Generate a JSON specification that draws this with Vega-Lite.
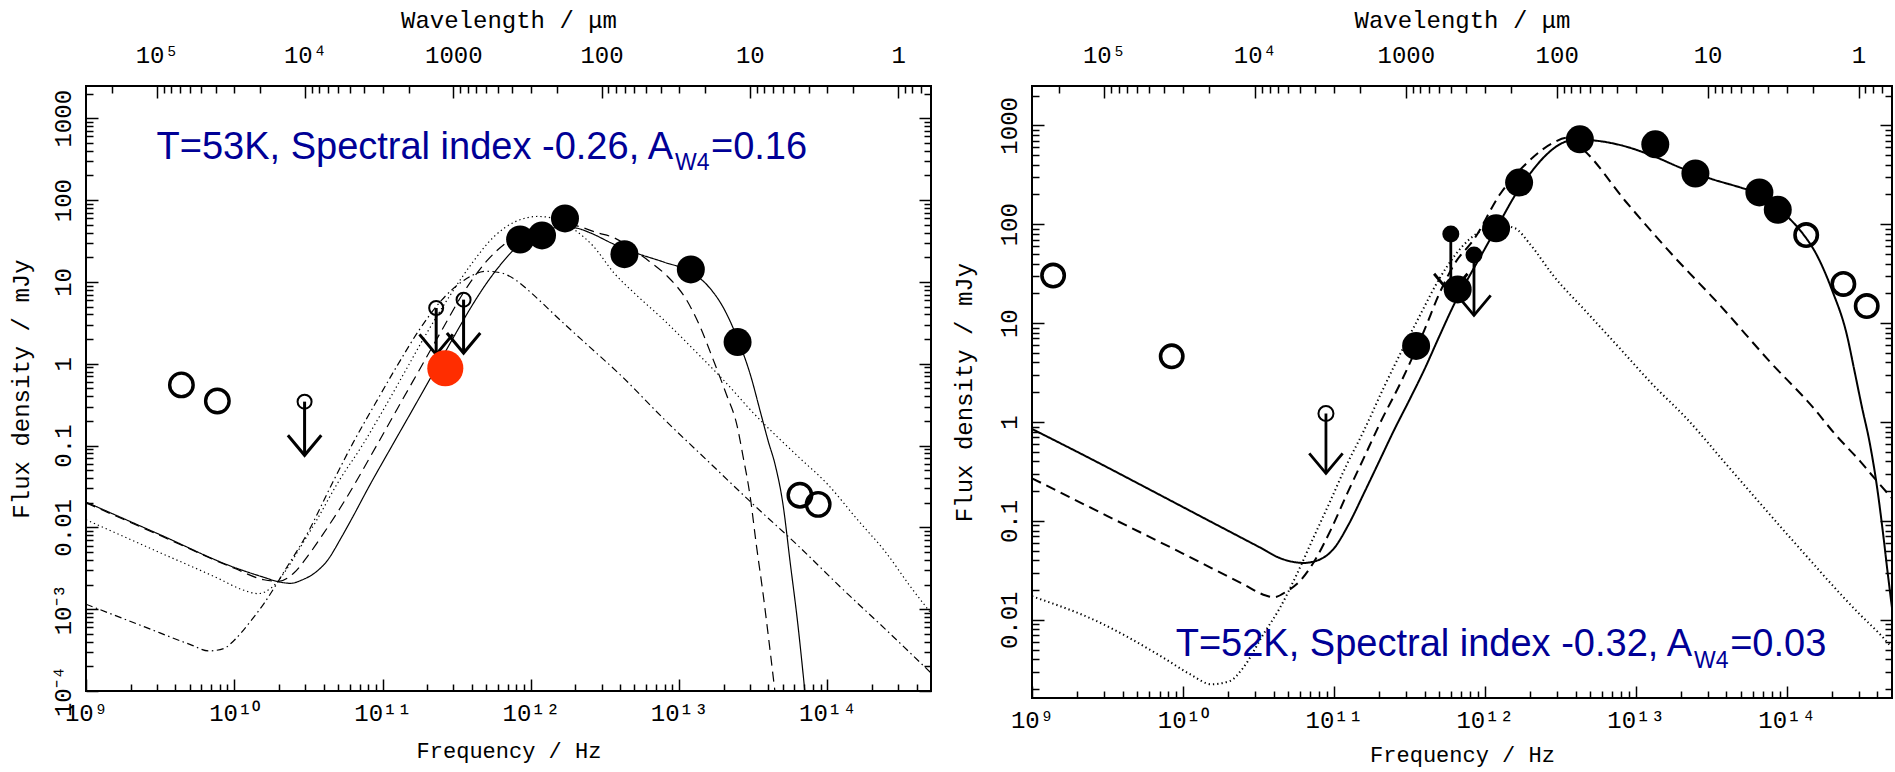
{
  "$schema": "https://vega.github.io/schema/vega-lite/v6.json",
  "background": "white",
  "padding": {"left": 8, "top": 7, "right": 0, "bottom": 8},
  "spacing": 101,
  "bounds": "flush",
  "datasets": {
    "leftCurves": [
      {"curve": "c1", "nu": 1e9, "flux": 0.0204}, {"curve": "c1", "nu": 3.162e9, "flux": 0.00813}, {"curve": "c1", "nu": 1e10, "flux": 0.00324}, {"curve": "c1", "nu": 1.585e10, "flux": 0.00245}, {"curve": "c1", "nu": 1.995e10, "flux": 0.00216}, {"curve": "c1", "nu": 2.399e10, "flux": 0.00207}, {"curve": "c1", "nu": 2.884e10, "flux": 0.00229}, {"curve": "c1", "nu": 3.467e10, "flux": 0.00275}, {"curve": "c1", "nu": 4.266e10, "flux": 0.00398}, {"curve": "c1", "nu": 5.248e10, "flux": 0.00741}, {"curve": "c1", "nu": 6.31e10, "flux": 0.0135}, {"curve": "c1", "nu": 7.943e10, "flux": 0.0295}, {"curve": "c1", "nu": 1.161e11, "flux": 0.1}, {"curve": "c1", "nu": 1.585e11, "flux": 0.269}, {"curve": "c1", "nu": 2.239e11, "flux": 0.813}, {"curve": "c1", "nu": 3.162e11, "flux": 2.455}, {"curve": "c1", "nu": 3.981e11, "flux": 5.012}, {"curve": "c1", "nu": 5.012e11, "flux": 9.55}, {"curve": "c1", "nu": 6.31e11, "flux": 16.6}, {"curve": "c1", "nu": 7.943e11, "flux": 26.3}, {"curve": "c1", "nu": 1e12, "flux": 35.5}, {"curve": "c1", "nu": 1.259e12, "flux": 42.7}, {"curve": "c1", "nu": 1.585e12, "flux": 46.8}, {"curve": "c1", "nu": 1.995e12, "flux": 45.7}, {"curve": "c1", "nu": 2.512e12, "flux": 39.8}, {"curve": "c1", "nu": 3.548e12, "flux": 29.5}, {"curve": "c1", "nu": 5.012e12, "flux": 22.9}, {"curve": "c1", "nu": 7.943e12, "flux": 17.4}, {"curve": "c1", "nu": 1.202e13, "flux": 13.2}, {"curve": "c1", "nu": 1.585e13, "flux": 8.71}, {"curve": "c1", "nu": 1.995e13, "flux": 4.79}, {"curve": "c1", "nu": 2.512e13, "flux": 1.905}, {"curve": "c1", "nu": 3.02e13, "flux": 0.741}, {"curve": "c1", "nu": 3.548e13, "flux": 0.251}, {"curve": "c1", "nu": 3.981e13, "flux": 0.115}, {"curve": "c1", "nu": 4.467e13, "flux": 0.0562}, {"curve": "c1", "nu": 5.012e13, "flux": 0.0195}, {"curve": "c1", "nu": 5.623e13, "flux": 0.00363}, {"curve": "c1", "nu": 6.31e13, "flux": 0.000676}, {"curve": "c1", "nu": 7.047e13, "flux": 0.0001},
      {"curve": "c2", "nu": 1e9, "flux": 0.01995}, {"curve": "c2", "nu": 3.162e9, "flux": 0.00794}, {"curve": "c2", "nu": 1e10, "flux": 0.00316}, {"curve": "c2", "nu": 1.585e10, "flux": 0.00229}, {"curve": "c2", "nu": 1.995e10, "flux": 0.00219}, {"curve": "c2", "nu": 2.512e10, "flux": 0.00275}, {"curve": "c2", "nu": 3.162e10, "flux": 0.00457}, {"curve": "c2", "nu": 3.981e10, "flux": 0.00832}, {"curve": "c2", "nu": 5.623e10, "flux": 0.0219}, {"curve": "c2", "nu": 9.12e10, "flux": 0.1}, {"curve": "c2", "nu": 1.259e11, "flux": 0.282}, {"curve": "c2", "nu": 1.778e11, "flux": 0.851}, {"curve": "c2", "nu": 2.512e11, "flux": 2.57}, {"curve": "c2", "nu": 3.548e11, "flux": 7.59}, {"curve": "c2", "nu": 5.012e11, "flux": 17.8}, {"curve": "c2", "nu": 7.079e11, "flux": 31.6}, {"curve": "c2", "nu": 1e12, "flux": 44.7}, {"curve": "c2", "nu": 1.413e12, "flux": 52.5}, {"curve": "c2", "nu": 1.995e12, "flux": 49.0}, {"curve": "c2", "nu": 2.818e12, "flux": 39.8}, {"curve": "c2", "nu": 3.631e12, "flux": 34.7}, {"curve": "c2", "nu": 5.012e12, "flux": 24.0}, {"curve": "c2", "nu": 6.31e12, "flux": 17.8}, {"curve": "c2", "nu": 8.318e12, "flux": 11.75}, {"curve": "c2", "nu": 1.122e13, "flux": 6.03}, {"curve": "c2", "nu": 1.38e13, "flux": 2.88}, {"curve": "c2", "nu": 1.698e13, "flux": 1.122}, {"curve": "c2", "nu": 2.089e13, "flux": 0.417}, {"curve": "c2", "nu": 2.455e13, "flux": 0.178}, {"curve": "c2", "nu": 2.692e13, "flux": 0.0759}, {"curve": "c2", "nu": 3.02e13, "flux": 0.0234}, {"curve": "c2", "nu": 3.311e13, "flux": 0.00631}, {"curve": "c2", "nu": 3.715e13, "flux": 0.00138}, {"curve": "c2", "nu": 4.074e13, "flux": 0.000355}, {"curve": "c2", "nu": 4.426e13, "flux": 0.0001},
      {"curve": "c3", "nu": 1e9, "flux": 0.0124}, {"curve": "c3", "nu": 3.162e9, "flux": 0.0049}, {"curve": "c3", "nu": 7.943e9, "flux": 0.00234}, {"curve": "c3", "nu": 1.122e10, "flux": 0.00174}, {"curve": "c3", "nu": 1.445e10, "flux": 0.00155}, {"curve": "c3", "nu": 1.778e10, "flux": 0.00182}, {"curve": "c3", "nu": 2.239e10, "flux": 0.00302}, {"curve": "c3", "nu": 2.818e10, "flux": 0.00589}, {"curve": "c3", "nu": 3.548e10, "flux": 0.01175}, {"curve": "c3", "nu": 5.012e10, "flux": 0.0355}, {"curve": "c3", "nu": 7.413e10, "flux": 0.105}, {"curve": "c3", "nu": 1e11, "flux": 0.263}, {"curve": "c3", "nu": 1.413e11, "flux": 0.794}, {"curve": "c3", "nu": 1.995e11, "flux": 2.4}, {"curve": "c3", "nu": 2.818e11, "flux": 6.61}, {"curve": "c3", "nu": 3.981e11, "flux": 16.6}, {"curve": "c3", "nu": 5.623e11, "flux": 35.5}, {"curve": "c3", "nu": 7.943e11, "flux": 55.0}, {"curve": "c3", "nu": 1.122e12, "flux": 63.1}, {"curve": "c3", "nu": 1.585e12, "flux": 56.2}, {"curve": "c3", "nu": 1.995e12, "flux": 42.7}, {"curve": "c3", "nu": 2.63e12, "flux": 27.5}, {"curve": "c3", "nu": 3.631e12, "flux": 12.9}, {"curve": "c3", "nu": 5.012e12, "flux": 7.24}, {"curve": "c3", "nu": 7.943e12, "flux": 3.39}, {"curve": "c3", "nu": 1.259e13, "flux": 1.479}, {"curve": "c3", "nu": 1.995e13, "flux": 0.631}, {"curve": "c3", "nu": 3.162e13, "flux": 0.251}, {"curve": "c3", "nu": 6.31e13, "flux": 0.0741}, {"curve": "c3", "nu": 1e14, "flux": 0.0339}, {"curve": "c3", "nu": 1.585e14, "flux": 0.0126}, {"curve": "c3", "nu": 2.512e14, "flux": 0.00479}, {"curve": "c3", "nu": 3.548e14, "flux": 0.002}, {"curve": "c3", "nu": 5e14, "flux": 0.000891},
      {"curve": "c4", "nu": 1e9, "flux": 0.00115}, {"curve": "c4", "nu": 2.512e9, "flux": 0.000603}, {"curve": "c4", "nu": 5.012e9, "flux": 0.000372}, {"curve": "c4", "nu": 6.761e9, "flux": 0.000309}, {"curve": "c4", "nu": 8.511e9, "flux": 0.000331}, {"curve": "c4", "nu": 1e10, "flux": 0.000417}, {"curve": "c4", "nu": 1.259e10, "flux": 0.000676}, {"curve": "c4", "nu": 1.585e10, "flux": 0.00117}, {"curve": "c4", "nu": 2.239e10, "flux": 0.00316}, {"curve": "c4", "nu": 3.162e10, "flux": 0.00891}, {"curve": "c4", "nu": 4.467e10, "flux": 0.0316}, {"curve": "c4", "nu": 6.31e10, "flux": 0.107}, {"curve": "c4", "nu": 8.913e10, "flux": 0.324}, {"curve": "c4", "nu": 1.259e11, "flux": 0.955}, {"curve": "c4", "nu": 1.778e11, "flux": 2.63}, {"curve": "c4", "nu": 2.512e11, "flux": 6.03}, {"curve": "c4", "nu": 3.548e11, "flux": 10.5}, {"curve": "c4", "nu": 5.012e11, "flux": 13.5}, {"curve": "c4", "nu": 6.31e11, "flux": 12.9}, {"curve": "c4", "nu": 7.943e11, "flux": 10.5}, {"curve": "c4", "nu": 1e12, "flux": 7.41}, {"curve": "c4", "nu": 1.585e12, "flux": 3.39}, {"curve": "c4", "nu": 2.512e12, "flux": 1.585}, {"curve": "c4", "nu": 3.981e12, "flux": 0.741}, {"curve": "c4", "nu": 7.943e12, "flux": 0.209}, {"curve": "c4", "nu": 1.585e13, "flux": 0.0631}, {"curve": "c4", "nu": 3.162e13, "flux": 0.0191}, {"curve": "c4", "nu": 6.31e13, "flux": 0.00603}, {"curve": "c4", "nu": 1.259e14, "flux": 0.00178}, {"curve": "c4", "nu": 2.512e14, "flux": 0.00055}, {"curve": "c4", "nu": 5e14, "flux": 0.000166}
    ],
    "leftPoints": [
      {"kind": "detection", "nu": 8.47e11, "flux": 33.0},
      {"kind": "detection", "nu": 1.19e12, "flux": 37.0},
      {"kind": "detection", "nu": 1.70e12, "flux": 59.7},
      {"kind": "detection", "nu": 4.28e12, "flux": 21.8},
      {"kind": "detection", "nu": 1.20e13, "flux": 14.2},
      {"kind": "detection", "nu": 2.48e13, "flux": 1.84},
      {"kind": "archival", "nu": 4.40e9, "flux": 0.551},
      {"kind": "archival", "nu": 7.69e9, "flux": 0.350},
      {"kind": "archival", "nu": 6.53e13, "flux": 0.0247},
      {"kind": "archival", "nu": 8.67e13, "flux": 0.0191},
      {"kind": "limit", "nu": 2.98e10, "flux": 0.344, "tip": 0.076},
      {"kind": "limit", "nu": 2.30e11, "flux": 4.80, "tip": 1.3},
      {"kind": "limit", "nu": 3.52e11, "flux": 6.07, "tip": 1.35},
      {"kind": "new", "nu": 2.65e11, "flux": 0.88}
    ],
    "rightCurves": [
      {"curve": "c1", "nu": 1e9, "flux": 0.851}, {"curve": "c1", "nu": 2.512e9, "flux": 0.417}, {"curve": "c1", "nu": 6.31e9, "flux": 0.2}, {"curve": "c1", "nu": 1.585e10, "flux": 0.0955}, {"curve": "c1", "nu": 3.162e10, "flux": 0.055}, {"curve": "c1", "nu": 4.467e10, "flux": 0.0417}, {"curve": "c1", "nu": 6.31e10, "flux": 0.0376}, {"curve": "c1", "nu": 7.943e10, "flux": 0.0403}, {"curve": "c1", "nu": 1e11, "flux": 0.0525}, {"curve": "c1", "nu": 1.259e11, "flux": 0.0933}, {"curve": "c1", "nu": 1.585e11, "flux": 0.191}, {"curve": "c1", "nu": 1.995e11, "flux": 0.398}, {"curve": "c1", "nu": 2.512e11, "flux": 0.832}, {"curve": "c1", "nu": 3.162e11, "flux": 1.66}, {"curve": "c1", "nu": 3.981e11, "flux": 3.39}, {"curve": "c1", "nu": 5.012e11, "flux": 7.41}, {"curve": "c1", "nu": 6.31e11, "flux": 15.8}, {"curve": "c1", "nu": 7.943e11, "flux": 30.2}, {"curve": "c1", "nu": 1e12, "flux": 56.2}, {"curve": "c1", "nu": 1.259e12, "flux": 105}, {"curve": "c1", "nu": 1.585e12, "flux": 195}, {"curve": "c1", "nu": 1.995e12, "flux": 324}, {"curve": "c1", "nu": 2.512e12, "flux": 490}, {"curve": "c1", "nu": 3.162e12, "flux": 646}, {"curve": "c1", "nu": 3.981e12, "flux": 716}, {"curve": "c1", "nu": 5.012e12, "flux": 708}, {"curve": "c1", "nu": 7.943e12, "flux": 631}, {"curve": "c1", "nu": 1.259e13, "flux": 501}, {"curve": "c1", "nu": 1.995e13, "flux": 372}, {"curve": "c1", "nu": 3.162e13, "flux": 288}, {"curve": "c1", "nu": 5.012e13, "flux": 234}, {"curve": "c1", "nu": 6.31e13, "flux": 209}, {"curve": "c1", "nu": 7.943e13, "flux": 166}, {"curve": "c1", "nu": 1e14, "flux": 122}, {"curve": "c1", "nu": 1.259e14, "flux": 83.2}, {"curve": "c1", "nu": 1.585e14, "flux": 49.0}, {"curve": "c1", "nu": 1.995e14, "flux": 21.9}, {"curve": "c1", "nu": 2.512e14, "flux": 7.59}, {"curve": "c1", "nu": 2.818e14, "flux": 3.31}, {"curve": "c1", "nu": 3.162e14, "flux": 1.41}, {"curve": "c1", "nu": 3.548e14, "flux": 0.631}, {"curve": "c1", "nu": 3.981e14, "flux": 0.219}, {"curve": "c1", "nu": 4.365e14, "flux": 0.0741}, {"curve": "c1", "nu": 4.677e14, "flux": 0.0302}, {"curve": "c1", "nu": 5e14, "flux": 0.0132},
      {"curve": "c2", "nu": 1e9, "flux": 0.27}, {"curve": "c2", "nu": 3.162e9, "flux": 0.112}, {"curve": "c2", "nu": 1e10, "flux": 0.0468}, {"curve": "c2", "nu": 2.512e10, "flux": 0.0229}, {"curve": "c2", "nu": 3.548e10, "flux": 0.0176}, {"curve": "c2", "nu": 3.981e10, "flux": 0.0169}, {"curve": "c2", "nu": 4.898e10, "flux": 0.0195}, {"curve": "c2", "nu": 6.026e10, "flux": 0.0251}, {"curve": "c2", "nu": 7.413e10, "flux": 0.0389}, {"curve": "c2", "nu": 9.55e10, "flux": 0.0813}, {"curve": "c2", "nu": 1.23e11, "flux": 0.191}, {"curve": "c2", "nu": 1.585e11, "flux": 0.437}, {"curve": "c2", "nu": 2.042e11, "flux": 1.0}, {"curve": "c2", "nu": 2.818e11, "flux": 2.63}, {"curve": "c2", "nu": 3.981e11, "flux": 8.51}, {"curve": "c2", "nu": 5.012e11, "flux": 20.0}, {"curve": "c2", "nu": 6.31e11, "flux": 39.8}, {"curve": "c2", "nu": 8.511e11, "flux": 70.8}, {"curve": "c2", "nu": 1.259e12, "flux": 200}, {"curve": "c2", "nu": 1.905e12, "flux": 417}, {"curve": "c2", "nu": 2.818e12, "flux": 661}, {"curve": "c2", "nu": 3.548e12, "flux": 750}, {"curve": "c2", "nu": 4.467e12, "flux": 575}, {"curve": "c2", "nu": 8.71e12, "flux": 166}, {"curve": "c2", "nu": 1.778e13, "flux": 47.9}, {"curve": "c2", "nu": 3.631e13, "flux": 15.1}, {"curve": "c2", "nu": 7.762e13, "flux": 4.07}, {"curve": "c2", "nu": 1.514e14, "flux": 1.38}, {"curve": "c2", "nu": 2.089e14, "flux": 0.759}, {"curve": "c2", "nu": 3.09e14, "flux": 0.398}, {"curve": "c2", "nu": 4.169e14, "flux": 0.232}, {"curve": "c2", "nu": 5e14, "flux": 0.17},
      {"curve": "c3", "nu": 1e9, "flux": 0.0173}, {"curve": "c3", "nu": 2.685e9, "flux": 0.0097}, {"curve": "c3", "nu": 7.413e9, "flux": 0.00414}, {"curve": "c3", "nu": 1.114e10, "flux": 0.00282}, {"curve": "c3", "nu": 1.552e10, "flux": 0.00223}, {"curve": "c3", "nu": 2.051e10, "flux": 0.00241}, {"curve": "c3", "nu": 2.512e10, "flux": 0.00328}, {"curve": "c3", "nu": 3.412e10, "flux": 0.00713}, {"curve": "c3", "nu": 4.395e10, "flux": 0.0132}, {"curve": "c3", "nu": 5.675e10, "flux": 0.0287}, {"curve": "c3", "nu": 7.311e10, "flux": 0.0671}, {"curve": "c3", "nu": 9.441e10, "flux": 0.157}, {"curve": "c3", "nu": 1.216e11, "flux": 0.369}, {"curve": "c3", "nu": 1.57e11, "flux": 0.798}, {"curve": "c3", "nu": 2.128e11, "flux": 2.18}, {"curve": "c3", "nu": 3.724e11, "flux": 12.0}, {"curve": "c3", "nu": 5.012e11, "flux": 28.2}, {"curve": "c3", "nu": 6.31e11, "flux": 47.9}, {"curve": "c3", "nu": 7.943e11, "flux": 70.8}, {"curve": "c3", "nu": 1e12, "flux": 89.1}, {"curve": "c3", "nu": 1.259e12, "flux": 97.7}, {"curve": "c3", "nu": 1.585e12, "flux": 91.2}, {"curve": "c3", "nu": 1.995e12, "flux": 63.1}, {"curve": "c3", "nu": 2.851e12, "flux": 30.2}, {"curve": "c3", "nu": 4.742e12, "flux": 12.9}, {"curve": "c3", "nu": 7.889e12, "flux": 5.52}, {"curve": "c3", "nu": 1.309e13, "flux": 2.36}, {"curve": "c3", "nu": 2.178e13, "flux": 1.086}, {"curve": "c3", "nu": 4.018e13, "flux": 0.369}, {"curve": "c3", "nu": 1.112e14, "flux": 0.0621}, {"curve": "c3", "nu": 3.069e14, "flux": 0.0113}, {"curve": "c3", "nu": 4.169e14, "flux": 0.00713}, {"curve": "c3", "nu": 5e14, "flux": 0.00525}
    ],
    "rightPoints": [
      {"kind": "detection", "nu": 3.51e11, "flux": 5.88},
      {"kind": "detection", "nu": 6.62e11, "flux": 21.9},
      {"kind": "detection", "nu": 1.19e12, "flux": 91.0},
      {"kind": "detection", "nu": 1.69e12, "flux": 264},
      {"kind": "detection", "nu": 4.27e12, "flux": 723},
      {"kind": "detection", "nu": 1.35e13, "flux": 643},
      {"kind": "detection", "nu": 2.49e13, "flux": 326},
      {"kind": "detection", "nu": 6.61e13, "flux": 210},
      {"kind": "detection", "nu": 8.75e13, "flux": 140},
      {"kind": "archival", "nu": 1.38e9, "flux": 30.3},
      {"kind": "archival", "nu": 8.43e9, "flux": 4.62},
      {"kind": "archival", "nu": 1.35e14, "flux": 77.8},
      {"kind": "archival", "nu": 2.38e14, "flux": 24.9},
      {"kind": "archival", "nu": 3.40e14, "flux": 14.9},
      {"kind": "limit", "nu": 8.87e10, "flux": 1.22, "tip": 0.303},
      {"kind": "limit2", "nu": 5.96e11, "flux": 79.6, "tip": 19.8},
      {"kind": "limit2", "nu": 8.49e11, "flux": 48.9, "tip": 12.0}
    ],
    "leftNotes": [
      {"part": "main", "nu": 9.1e12, "flux": 316, "text": "T=53K, Spectral index -0.26, A"},
      {"part": "sub", "nu": 9.38e12, "flux": 232, "text": "W4"},
      {"part": "tail", "nu": 1.64e13, "flux": 316, "text": "=0.16"}
    ],
    "rightNotes": [
      {"part": "main", "nu": 2.37e13, "flux": 0.0043, "text": "T=52K, Spectral index -0.32, A"},
      {"part": "sub", "nu": 2.44e13, "flux": 0.00328, "text": "W4"},
      {"part": "tail", "nu": 4.23e13, "flux": 0.0043, "text": "=0.03"}
    ]
  },
  "hconcat": [
    {
      "width": 845,
      "height": 605,
      "resolve": {"axis": {"x": "independent", "y": "independent"}},
      "layer": [
        {
          "data": {"name": "leftCurves"},
          "mark": {"type": "line", "clip": true, "color": "black", "strokeWidth": 1.2, "interpolate": "monotone"},
          "encoding": {
            "x": {"field": "nu", "type": "quantitative", "scale": {"type": "log", "domain": [1e9, 5e14], "nice": false},
              "axis": {"orient": "bottom", "values": [1e9, 1e10, 1e11, 1e12, 1e13, 1e14], "tickSize": -12, "labelPadding": 22, "labelBaseline": "top", "labelAlign": "center", "labelFlush": false, "labelOverlap": false,
                "labelExpr": "['10⁹','10¹⁰','10¹¹','10¹²','10¹³','10¹⁴'][round(log(datum.value)/LN10)-9]",
                "title": "Frequency / Hz", "titleFontSize": 22, "titleY": 66, "titleBaseline": "alphabetic"}},
            "y": {"field": "flux", "type": "quantitative", "scale": {"type": "log", "domain": [0.0001, 2480], "nice": false},
              "axis": {"orient": "left", "values": [0.0001, 0.001, 0.01, 0.1, 1, 10, 100, 1000], "tickSize": -12, "labelPadding": 28, "labelAngle": -90, "labelAlign": "center", "labelBaseline": "alphabetic", "labelFlush": false, "labelOverlap": false,
                "labelExpr": "['10⁻⁴','10⁻³','0.01','0.1','1','10','100','1000'][round(log(datum.value)/LN10)+4]",
                "title": "Flux density / mJy", "titleX": -58, "titleBaseline": "alphabetic"}},
            "detail": {"field": "curve", "type": "nominal"},
            "strokeDash": {"field": "curve", "type": "nominal", "legend": null,
              "scale": {"domain": ["c1", "c2", "c3", "c4"], "range": [[1, 0], [10, 6], [1.3, 3], [7, 3.5, 1.5, 3.5]]}}
          }
        },
        {
          "data": {"name": "leftPoints"},
          "transform": [{"filter": {"field": "kind", "equal": "limit"}}],
          "mark": {"type": "rule", "color": "black", "strokeWidth": 3},
          "encoding": {
            "x": {"field": "nu", "type": "quantitative",
              "axis": {"orient": "bottom", "values": [2e9, 3e9, 4e9, 5e9, 6e9, 7e9, 8e9, 9e9, 2e10, 3e10, 4e10, 5e10, 6e10, 7e10, 8e10, 9e10, 2e11, 3e11, 4e11, 5e11, 6e11, 7e11, 8e11, 9e11, 2e12, 3e12, 4e12, 5e12, 6e12, 7e12, 8e12, 9e12, 2e13, 3e13, 4e13, 5e13, 6e13, 7e13, 8e13, 9e13, 2e14, 3e14, 4e14], "tickSize": -7, "labels": false, "title": null}},
            "y": {"field": "flux", "type": "quantitative",
              "axis": {"orient": "left", "values": [0.0002, 0.0003, 0.0004, 0.0005, 0.0006, 0.0007, 0.0008, 0.0009, 0.002, 0.003, 0.004, 0.005, 0.006, 0.007, 0.008, 0.009, 0.02, 0.03, 0.04, 0.05, 0.06, 0.07, 0.08, 0.09, 0.2, 0.3, 0.4, 0.5, 0.6, 0.7, 0.8, 0.9, 2, 3, 4, 5, 6, 7, 8, 9, 20, 30, 40, 50, 60, 70, 80, 90, 200, 300, 400, 500, 600, 700, 800, 900, 2000], "tickSize": -7, "labels": false, "title": null}},
            "y2": {"field": "tip"}
          }
        },
        {
          "data": {"name": "leftPoints"},
          "transform": [{"filter": {"field": "kind", "equal": "limit"}}],
          "mark": {"type": "point", "shape": "M-1,-1.2L0,0L1,-1.2", "size": 1115, "filled": false, "color": "black", "strokeWidth": 3, "opacity": 1},
          "encoding": {
            "x": {"field": "nu", "type": "quantitative",
              "axis": {"orient": "top", "values": [3e9, 3e10, 3e11, 3e12, 3e13, 3e14], "tickSize": -12, "labelPadding": 36, "labelBaseline": "alphabetic", "labelAlign": "center", "labelFlush": false, "labelOverlap": false,
                "labelExpr": "['10⁵','10⁴','1000','100','10','1'][round(log(datum.value/3e9)/LN10)]",
                "title": "Wavelength / μm", "titleY": -59, "titleBaseline": "alphabetic"}},
            "y": {"field": "tip", "type": "quantitative",
              "axis": {"orient": "right", "values": [0.0001, 0.001, 0.01, 0.1, 1, 10, 100, 1000], "tickSize": -12, "labels": false, "title": null}}
          }
        },
        {
          "data": {"name": "leftPoints"},
          "transform": [{"filter": {"field": "kind", "equal": "archival"}}],
          "mark": {"type": "point", "shape": "circle", "size": 552, "filled": false, "color": "black", "strokeWidth": 3.4, "opacity": 1},
          "encoding": {
            "x": {"field": "nu", "type": "quantitative",
              "axis": {"orient": "top", "values": [1.5e9, 3.3333e9, 3.75e9, 4.2857e9, 5e9, 6e9, 7.5e9, 1e10, 1.5e10, 3.3333e10, 3.75e10, 4.2857e10, 5e10, 6e10, 7.5e10, 1e11, 1.5e11, 3.3333e11, 3.75e11, 4.2857e11, 5e11, 6e11, 7.5e11, 1e12, 1.5e12, 3.3333e12, 3.75e12, 4.2857e12, 5e12, 6e12, 7.5e12, 1e13, 1.5e13, 3.3333e13, 3.75e13, 4.2857e13, 5e13, 6e13, 7.5e13, 1e14, 1.5e14, 3.3333e14, 3.75e14, 4.2857e14], "tickSize": -7, "labels": false, "title": null}},
            "y": {"field": "flux", "type": "quantitative",
              "axis": {"orient": "right", "values": [0.0002, 0.0003, 0.0004, 0.0005, 0.0006, 0.0007, 0.0008, 0.0009, 0.002, 0.003, 0.004, 0.005, 0.006, 0.007, 0.008, 0.009, 0.02, 0.03, 0.04, 0.05, 0.06, 0.07, 0.08, 0.09, 0.2, 0.3, 0.4, 0.5, 0.6, 0.7, 0.8, 0.9, 2, 3, 4, 5, 6, 7, 8, 9, 20, 30, 40, 50, 60, 70, 80, 90, 200, 300, 400, 500, 600, 700, 800, 900, 2000], "tickSize": -7, "labels": false, "title": null}}
          }
        },
        {
          "data": {"name": "leftPoints"},
          "transform": [{"filter": {"field": "kind", "equal": "limit"}}],
          "mark": {"type": "point", "shape": "circle", "size": 196, "filled": false, "color": "black", "strokeWidth": 2, "opacity": 1},
          "encoding": {
            "x": {"field": "nu", "type": "quantitative", "axis": null},
            "y": {"field": "flux", "type": "quantitative", "axis": null}
          }
        },
        {
          "data": {"name": "leftPoints"},
          "transform": [{"filter": {"field": "kind", "equal": "detection"}}],
          "mark": {"type": "circle", "size": 784, "color": "black", "opacity": 1},
          "encoding": {
            "x": {"field": "nu", "type": "quantitative", "axis": null},
            "y": {"field": "flux", "type": "quantitative", "axis": null}
          }
        },
        {
          "data": {"name": "leftPoints"},
          "transform": [{"filter": {"field": "kind", "equal": "new"}}],
          "mark": {"type": "circle", "size": 1300, "color": "#ff2d00", "opacity": 1},
          "encoding": {
            "x": {"field": "nu", "type": "quantitative", "axis": null},
            "y": {"field": "flux", "type": "quantitative", "axis": null}
          }
        },
        {
          "data": {"name": "leftNotes"},
          "transform": [{"filter": {"field": "part", "equal": "main"}}],
          "mark": {"type": "text", "align": "right", "baseline": "alphabetic", "font": "Liberation Sans, sans-serif", "fontSize": 38, "color": "#000096"},
          "encoding": {
            "x": {"field": "nu", "type": "quantitative", "axis": null},
            "y": {"field": "flux", "type": "quantitative", "axis": null},
            "text": {"field": "text"}
          }
        },
        {
          "data": {"name": "leftNotes"},
          "transform": [{"filter": {"field": "part", "equal": "sub"}}],
          "mark": {"type": "text", "align": "left", "baseline": "alphabetic", "font": "Liberation Sans, sans-serif", "fontSize": 23, "color": "#000096"},
          "encoding": {
            "x": {"field": "nu", "type": "quantitative", "axis": null},
            "y": {"field": "flux", "type": "quantitative", "axis": null},
            "text": {"field": "text"}
          }
        },
        {
          "data": {"name": "leftNotes"},
          "transform": [{"filter": {"field": "part", "equal": "tail"}}],
          "mark": {"type": "text", "align": "left", "baseline": "alphabetic", "font": "Liberation Sans, sans-serif", "fontSize": 38, "color": "#000096"},
          "encoding": {
            "x": {"field": "nu", "type": "quantitative", "axis": null},
            "y": {"field": "flux", "type": "quantitative", "axis": null},
            "text": {"field": "text"}
          }
        }
      ]
    },
    {
      "width": 860,
      "height": 612,
      "resolve": {"axis": {"x": "independent", "y": "independent"}},
      "layer": [
        {
          "data": {"name": "rightCurves"},
          "mark": {"type": "line", "clip": true, "color": "black", "interpolate": "monotone"},
          "encoding": {
            "x": {"field": "nu", "type": "quantitative", "scale": {"type": "log", "domain": [1e9, 5e14], "nice": false},
              "axis": {"orient": "bottom", "values": [1e9, 1e10, 1e11, 1e12, 1e13, 1e14], "tickSize": -12, "labelPadding": 22, "labelBaseline": "top", "labelAlign": "center", "labelFlush": false, "labelOverlap": false,
                "labelExpr": "['10⁹','10¹⁰','10¹¹','10¹²','10¹³','10¹⁴'][round(log(datum.value)/LN10)-9]",
                "title": "Frequency / Hz", "titleFontSize": 22, "titleY": 63, "titleBaseline": "alphabetic"}},
            "y": {"field": "flux", "type": "quantitative", "scale": {"type": "log", "domain": [0.00162, 2500], "nice": false},
              "axis": {"orient": "left", "values": [0.01, 0.1, 1, 10, 100, 1000], "tickSize": -12, "labelPadding": 28, "labelAngle": -90, "labelAlign": "center", "labelBaseline": "alphabetic", "labelFlush": false, "labelOverlap": false,
                "labelExpr": "['0.01','0.1','1','10','100','1000'][round(log(datum.value)/LN10)+2]",
                "title": "Flux density / mJy", "titleX": -61, "titleBaseline": "alphabetic"}},
            "detail": {"field": "curve", "type": "nominal"},
            "strokeDash": {"field": "curve", "type": "nominal", "legend": null,
              "scale": {"domain": ["c1", "c2", "c3"], "range": [[1, 0], [16, 9], [2.6, 5.8]]}},
            "strokeWidth": {"field": "curve", "type": "nominal", "legend": null,
              "scale": {"domain": ["c1", "c2", "c3"], "range": [2, 2, 3]}}
          }
        },
        {
          "data": {"name": "rightPoints"},
          "transform": [{"filter": {"field": "kind", "oneOf": ["limit", "limit2"]}}],
          "mark": {"type": "rule", "color": "black", "strokeWidth": 2.8},
          "encoding": {
            "x": {"field": "nu", "type": "quantitative",
              "axis": {"orient": "bottom", "values": [2e9, 3e9, 4e9, 5e9, 6e9, 7e9, 8e9, 9e9, 2e10, 3e10, 4e10, 5e10, 6e10, 7e10, 8e10, 9e10, 2e11, 3e11, 4e11, 5e11, 6e11, 7e11, 8e11, 9e11, 2e12, 3e12, 4e12, 5e12, 6e12, 7e12, 8e12, 9e12, 2e13, 3e13, 4e13, 5e13, 6e13, 7e13, 8e13, 9e13, 2e14, 3e14, 4e14], "tickSize": -7, "labels": false, "title": null}},
            "y": {"field": "flux", "type": "quantitative",
              "axis": {"orient": "left", "values": [0.002, 0.003, 0.004, 0.005, 0.006, 0.007, 0.008, 0.009, 0.02, 0.03, 0.04, 0.05, 0.06, 0.07, 0.08, 0.09, 0.2, 0.3, 0.4, 0.5, 0.6, 0.7, 0.8, 0.9, 2, 3, 4, 5, 6, 7, 8, 9, 20, 30, 40, 50, 60, 70, 80, 90, 200, 300, 400, 500, 600, 700, 800, 900, 2000], "tickSize": -7, "labels": false, "title": null}},
            "y2": {"field": "tip"}
          }
        },
        {
          "data": {"name": "rightPoints"},
          "transform": [{"filter": {"field": "kind", "oneOf": ["limit", "limit2"]}}],
          "mark": {"type": "point", "shape": "M-1,-1.2L0,0L1,-1.2", "size": 1115, "filled": false, "color": "black", "strokeWidth": 2.8, "opacity": 1},
          "encoding": {
            "x": {"field": "nu", "type": "quantitative",
              "axis": {"orient": "top", "values": [3e9, 3e10, 3e11, 3e12, 3e13, 3e14], "tickSize": -12, "labelPadding": 36, "labelBaseline": "alphabetic", "labelAlign": "center", "labelFlush": false, "labelOverlap": false,
                "labelExpr": "['10⁵','10⁴','1000','100','10','1'][round(log(datum.value/3e9)/LN10)]",
                "title": "Wavelength / μm", "titleY": -59, "titleBaseline": "alphabetic"}},
            "y": {"field": "tip", "type": "quantitative",
              "axis": {"orient": "right", "values": [0.01, 0.1, 1, 10, 100, 1000], "tickSize": -12, "labels": false, "title": null}}
          }
        },
        {
          "data": {"name": "rightPoints"},
          "transform": [{"filter": {"field": "kind", "equal": "archival"}}],
          "mark": {"type": "point", "shape": "circle", "size": 500, "filled": false, "color": "black", "strokeWidth": 3.6, "opacity": 1},
          "encoding": {
            "x": {"field": "nu", "type": "quantitative",
              "axis": {"orient": "top", "values": [1.5e9, 3.3333e9, 3.75e9, 4.2857e9, 5e9, 6e9, 7.5e9, 1e10, 1.5e10, 3.3333e10, 3.75e10, 4.2857e10, 5e10, 6e10, 7.5e10, 1e11, 1.5e11, 3.3333e11, 3.75e11, 4.2857e11, 5e11, 6e11, 7.5e11, 1e12, 1.5e12, 3.3333e12, 3.75e12, 4.2857e12, 5e12, 6e12, 7.5e12, 1e13, 1.5e13, 3.3333e13, 3.75e13, 4.2857e13, 5e13, 6e13, 7.5e13, 1e14, 1.5e14, 3.3333e14, 3.75e14, 4.2857e14], "tickSize": -7, "labels": false, "title": null}},
            "y": {"field": "flux", "type": "quantitative",
              "axis": {"orient": "right", "values": [0.002, 0.003, 0.004, 0.005, 0.006, 0.007, 0.008, 0.009, 0.02, 0.03, 0.04, 0.05, 0.06, 0.07, 0.08, 0.09, 0.2, 0.3, 0.4, 0.5, 0.6, 0.7, 0.8, 0.9, 2, 3, 4, 5, 6, 7, 8, 9, 20, 30, 40, 50, 60, 70, 80, 90, 200, 300, 400, 500, 600, 700, 800, 900, 2000], "tickSize": -7, "labels": false, "title": null}}
          }
        },
        {
          "data": {"name": "rightPoints"},
          "transform": [{"filter": {"field": "kind", "equal": "limit"}}],
          "mark": {"type": "point", "shape": "circle", "size": 225, "filled": false, "color": "black", "strokeWidth": 2, "opacity": 1},
          "encoding": {
            "x": {"field": "nu", "type": "quantitative", "axis": null},
            "y": {"field": "flux", "type": "quantitative", "axis": null}
          }
        },
        {
          "data": {"name": "rightPoints"},
          "transform": [{"filter": {"field": "kind", "equal": "limit2"}}],
          "mark": {"type": "circle", "size": 289, "color": "black", "opacity": 1},
          "encoding": {
            "x": {"field": "nu", "type": "quantitative", "axis": null},
            "y": {"field": "flux", "type": "quantitative", "axis": null}
          }
        },
        {
          "data": {"name": "rightPoints"},
          "transform": [{"filter": {"field": "kind", "equal": "detection"}}],
          "mark": {"type": "circle", "size": 784, "color": "black", "opacity": 1},
          "encoding": {
            "x": {"field": "nu", "type": "quantitative", "axis": null},
            "y": {"field": "flux", "type": "quantitative", "axis": null}
          }
        },
        {
          "data": {"name": "rightNotes"},
          "transform": [{"filter": {"field": "part", "equal": "main"}}],
          "mark": {"type": "text", "align": "right", "baseline": "alphabetic", "font": "Liberation Sans, sans-serif", "fontSize": 38, "color": "#000096"},
          "encoding": {
            "x": {"field": "nu", "type": "quantitative", "axis": null},
            "y": {"field": "flux", "type": "quantitative", "axis": null},
            "text": {"field": "text"}
          }
        },
        {
          "data": {"name": "rightNotes"},
          "transform": [{"filter": {"field": "part", "equal": "sub"}}],
          "mark": {"type": "text", "align": "left", "baseline": "alphabetic", "font": "Liberation Sans, sans-serif", "fontSize": 23, "color": "#000096"},
          "encoding": {
            "x": {"field": "nu", "type": "quantitative", "axis": null},
            "y": {"field": "flux", "type": "quantitative", "axis": null},
            "text": {"field": "text"}
          }
        },
        {
          "data": {"name": "rightNotes"},
          "transform": [{"filter": {"field": "part", "equal": "tail"}}],
          "mark": {"type": "text", "align": "left", "baseline": "alphabetic", "font": "Liberation Sans, sans-serif", "fontSize": 38, "color": "#000096"},
          "encoding": {
            "x": {"field": "nu", "type": "quantitative", "axis": null},
            "y": {"field": "flux", "type": "quantitative", "axis": null},
            "text": {"field": "text"}
          }
        }
      ]
    }
  ],
  "config": {
    "view": {"stroke": "black", "strokeWidth": 2},
    "axis": {"domain": false, "grid": false, "tickColor": "black", "tickWidth": 1.5,
      "labelFont": "Liberation Mono", "labelFontSize": 24, "labelColor": "black",
      "titleFont": "Liberation Mono", "titleFontSize": 24, "titleFontWeight": "normal", "titleColor": "black"}
  }
}
